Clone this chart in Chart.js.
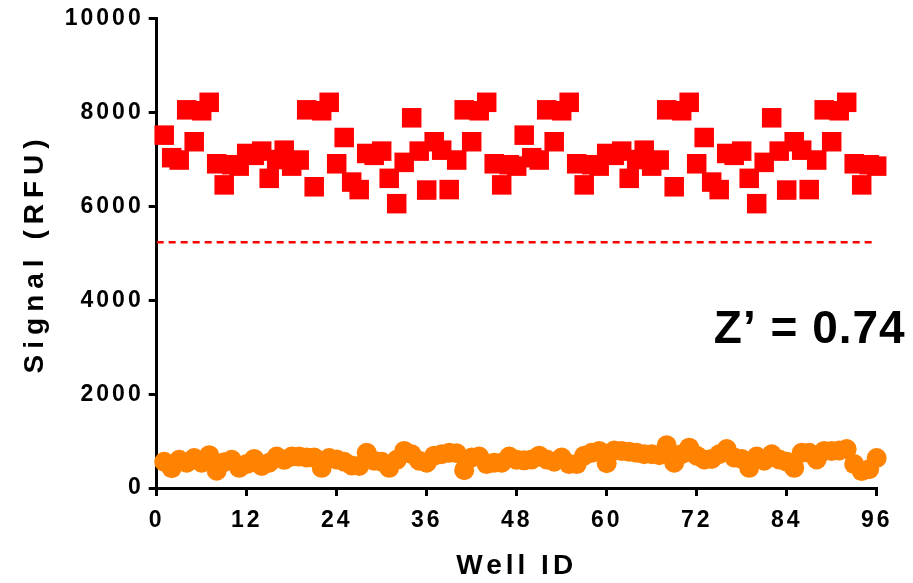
<!DOCTYPE html>
<html>
<head>
<meta charset="utf-8">
<script src="https://cdn.jsdelivr.net/npm/chart.js@4/dist/chart.umd.min.js"></script>
<style>
html,body{margin:0;padding:0;background:#fff;}
#wrap{width:913px;height:583px;position:relative;}
</style>
</head>
<body>
<div id="wrap"><canvas id="c" width="913" height="583"></canvas></div>
<script>
// Well IDs 1..96
const wells = [];
for (let i = 1; i <= 96; i++) wells.push(i);

// Positive control signal (RFU)
const positiveSignal = [
  7520, 7040, 6990, 8060, 7380, 8040, 8220, 6910, 6460, 6890, 6860, 7130, 7090, 7180, 6600,
  7000, 7200, 6860, 6990, 8060, 6420, 8040, 8220, 6910, 7470, 6520, 6360, 7130, 7090, 7180, 6600, 6060,
  6940, 7890, 7180, 6350, 7380, 7200, 6360, 6990, 8060, 7380, 8040, 8220, 6910, 6460, 6890, 6860,
  7520, 7040, 6990, 8060, 7380, 8040, 8220, 6910, 6460, 6890, 6860, 7130, 7090, 7180, 6600,
  7000, 7200, 6860, 6990, 8060, 6420, 8040, 8220, 6910, 7470, 6520, 6360, 7130, 7090, 7180, 6600, 6060,
  6940, 7890, 7180, 6350, 7380, 7200, 6360, 6990, 8060, 7380, 8040, 8220, 6910, 6460, 6890, 6860
];

// Negative control signal (RFU)
const negativeSignal = [
  560, 420, 600, 540, 640, 540, 700, 370, 550, 600, 430, 510, 620, 470, 540, 670,
  600, 670, 670, 650, 650, 430, 640, 610, 560, 480, 470, 750, 580, 560, 430, 600,
  790, 720, 580, 540, 690, 720, 750, 740, 380, 650, 670, 510, 540, 540, 670, 600,
  590, 610, 690, 610, 560, 650, 510, 510, 690, 750, 790, 530, 800, 790, 770, 750,
  720, 720, 700, 910, 540, 720, 860, 690, 610, 620, 720, 830, 650, 620, 430, 670,
  580, 720, 610, 560, 430, 750, 750, 610, 790, 790, 800, 830, 510, 360, 400, 640
];

// Threshold (dashed line) and annotation
const thresholdValue = 5240;
const thresholdRange = [0, 96];
const zPrimeLabel = "Z\u2019 = 0.74";
const zPrimeAnchor = {x: 96, y: 3360};

const xTicks = [0, 12, 24, 36, 48, 60, 72, 84, 96];
const yTicks = [0, 2000, 4000, 6000, 8000, 10000];

const posPts = wells.map((w, i) => ({x: w, y: positiveSignal[i]}));
const negPts = wells.map((w, i) => ({x: w, y: negativeSignal[i]}));
const thrPts = thresholdRange.map(x => ({x: x, y: thresholdValue}));

const titleSpacing = {x: '4px', y: '6px'};

const spacingPlugin = {
  id: 'spacing',
  afterUpdate(chart) {
    for (const id of Object.keys(titleSpacing)) {
      const s = chart.scales[id];
      if (s && !s._lsPatched) {
        const orig = s.drawTitle;
        s.drawTitle = function (...args) {
          const ctx = this.ctx;
          const prev = ctx.letterSpacing;
          ctx.letterSpacing = titleSpacing[id];
          orig.apply(this, args);
          ctx.letterSpacing = prev;
        };
        s._lsPatched = true;
      }
    }
  },
  beforeDraw(chart) { chart.ctx.letterSpacing = '3px'; },
  afterDraw(chart) {
    const ctx = chart.ctx;
    const xs = chart.scales.x, ys = chart.scales.y;
    ctx.save();
    ctx.letterSpacing = '1px';
    ctx.font = 'bold 46px "Liberation Sans", Arial, sans-serif';
    ctx.fillStyle = '#000';
    ctx.textAlign = 'right';
    ctx.textBaseline = 'middle';
    ctx.fillText(zPrimeLabel, xs.getPixelForValue(zPrimeAnchor.x) + 29, ys.getPixelForValue(zPrimeAnchor.y));
    ctx.restore();
    ctx.letterSpacing = '0px';
  }
};

const fontFam = '"Liberation Sans", Arial, sans-serif';

new Chart(document.getElementById('c'), {
  type: 'scatter',
  data: {
    datasets: [
      {
        label: 'Threshold',
        type: 'line',
        data: thrPts,
        borderColor: '#FF0000',
        borderWidth: 2.5,
        borderDash: [7, 5],
        pointRadius: 0,
        fill: false,
        order: 3
      },
      {
        label: 'Negative',
        data: negPts,
        pointStyle: 'circle',
        pointRadius: 10,
        backgroundColor: '#FF8300',
        borderColor: '#FF8300',
        borderWidth: 0,
        clip: false,
        order: 2
      },
      {
        label: 'Positive',
        data: posPts,
        pointStyle: 'rect',
        pointRadius: 13.8,
        backgroundColor: '#FF0000',
        borderColor: '#FF0000',
        borderWidth: 0,
        clip: false,
        order: 1
      }
    ]
  },
  options: {
    responsive: false,
    animation: false,
    layout: {padding: {left: 0, right: 36.3, top: 18, bottom: 0}},
    plugins: {legend: {display: false}, tooltip: {enabled: false}},
    scales: {
      x: {
        type: 'linear',
        min: 0, max: 96,
        afterBuildTicks(scale) { scale.ticks = xTicks.map(v => ({value: v})); },
        afterFit(scale) { scale.height = 95; },
        grid: {drawOnChartArea: false, drawTicks: true, tickLength: 8, color: '#000', lineWidth: 3},
        border: {color: '#000', width: 3},
        ticks: {
          color: '#000', padding: 11, maxRotation: 0, autoSkip: false,
          font: {family: fontFam, weight: 'bold', size: 23},
          callback: v => String(v)
        },
        title: {
          display: true, text: 'Well ID', color: '#000',
          font: {family: fontFam, weight: 'bold', size: 28},
          padding: {top: 0, bottom: 0}
        }
      },
      y: {
        type: 'linear',
        min: 0, max: 10000,
        afterBuildTicks(scale) { scale.ticks = yTicks.map(v => ({value: v})); },
        afterFit(scale) { scale.width = 156.7; },
        grid: {drawOnChartArea: false, drawTicks: true, tickLength: 8, color: '#000', lineWidth: 3},
        border: {color: '#000', width: 3},
        ticks: {
          color: '#000', padding: 5,
          font: {family: fontFam, weight: 'bold', size: 23},
          callback: v => String(v)
        },
        title: {
          display: true, text: 'Signal (RFU)', color: '#000',
          font: {family: fontFam, weight: 'bold', size: 28},
          padding: {top: 18, bottom: 0}
        }
      }
    }
  },
  plugins: [spacingPlugin]
});
</script>
</body>
</html>
